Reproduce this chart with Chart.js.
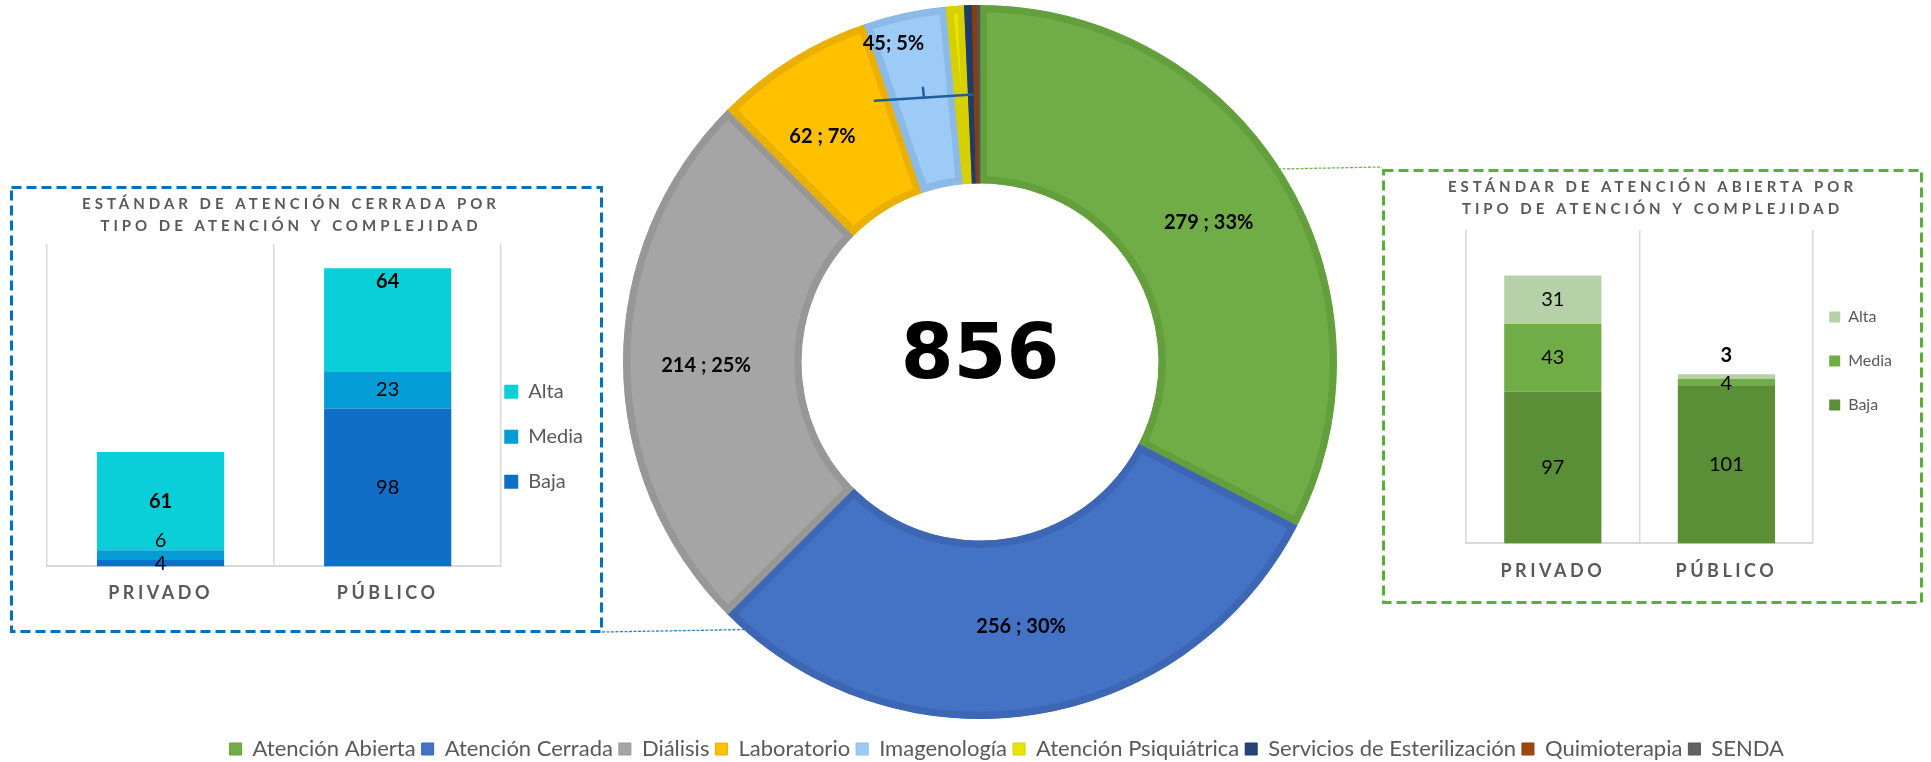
<!DOCTYPE html>
<html lang="es">
<head>
<meta charset="utf-8">
<title>Estándares por sector y tipo de atención</title>
<script src="https://cdn.jsdelivr.net/npm/chart.js@4/dist/chart.umd.min.js"></script>
<style>
  html, body { margin: 0; padding: 0; background: #fff; }
  body { width: 1931px; height: 762px; position: relative; overflow: hidden; }
  canvas, svg { position: absolute; }
</style>
</head>
<body>
<!-- marcos punteados y líneas de conexión -->
<svg width="1931" height="762" style="left:0;top:0">
  <rect x="11.5" y="187.5" width="590" height="444" fill="none" stroke="#0070C0" stroke-width="3" stroke-dasharray="10 5"/>
  <rect x="1383.5" y="170.5" width="538" height="432" fill="none" stroke="#5BAE3A" stroke-width="3" stroke-dasharray="10 5"/>
  <line x1="602" y1="632" x2="747" y2="629.5" stroke="#2F80C9" stroke-width="1.3" stroke-dasharray="3 1.5"/>
  <line x1="1278" y1="169" x2="1382" y2="167" stroke="#6DB552" stroke-width="1.3" stroke-dasharray="3 1.5"/>
</svg>
<canvas id="anillo" width="1620" height="782" style="left:170px;top:-12px"></canvas>
<canvas id="cerrada" width="604" height="440" style="left:-11px;top:190px"></canvas>
<canvas id="abierta" width="499" height="427" style="left:1403px;top:173px"></canvas>
<script>
// datos del anillo
const sectores = ['Atención Abierta', 'Atención Cerrada', 'Diálisis', 'Laboratorio', 'Imagenología',
  'Atención Psiquiátrica', 'Servicios de Esterilización', 'Quimioterapia', 'SENDA'];
const totalesSector = [279, 256, 214, 62, 32, 7, 3, 2, 1];
// sectores que comparten una etiqueta (Imagenología agrupa a los menores)
const gruposEtiqueta = [[0], [1], [2], [3], [4, 5, 6, 7, 8]];

// datos de las barras
const tiposPrestador = ['PRIVADO', 'PÚBLICO'];
const complejidades = ['Baja', 'Media', 'Alta'];
const cerradaBaja = [4, 98];
const cerradaMedia = [6, 23];
const cerradaAlta = [61, 64];
const abiertaBaja = [97, 101];
const abiertaMedia = [43, 4];
const abiertaAlta = [31, 3];

const tituloCerrada = ['ESTÁNDAR DE ATENCIÓN CERRADA POR', 'TIPO DE ATENCIÓN Y COMPLEJIDAD'];
const tituloAbierta = ['ESTÁNDAR DE ATENCIÓN ABIERTA POR', 'TIPO DE ATENCIÓN Y COMPLEJIDAD'];

const coloresSector = ['#70AD47', '#4472C4', '#A5A5A5', '#FFC000', '#9DCBF8', '#EAE400', '#264478', '#9E480E', '#636363'];
const bordesSector = ['#63A03D', '#3D67B5', '#979797', '#EAB000', '#8CBAE6', '#D6D000', '#1F3B6A', '#8A3E0B', '#555555'];

const totalEstandares = totalesSector.reduce((a, b) => a + b, 0);

// espaciado entre letras para títulos y categorías
const espaciado = {
  id: 'espaciado',
  beforeDraw(chart, args, opts) {
    const x = chart.scales.x;
    if (x && !x._espaciado) {
      const dibujar = x.drawLabels;
      x.drawLabels = function (area) {
        this.ctx.save();
        this.ctx.letterSpacing = opts.ticks;
        dibujar.call(this, area);
        this.ctx.restore();
      };
      x._espaciado = true;
    }
    const t = chart.titleBlock;
    if (t && !t._espaciado) {
      const dibujarT = t.draw;
      t.draw = function () {
        this.ctx.save();
        this.ctx.letterSpacing = opts.title;
        dibujarT.apply(this, arguments);
        this.ctx.restore();
      };
      t._espaciado = true;
    }
  }
};

// valores dentro de cada segmento de barra
const etiquetasBarras = {
  id: 'etiquetasBarras',
  afterDatasetsDraw(chart) {
    const ctx = chart.ctx;
    chart.data.datasets.forEach((ds, i) => {
      chart.getDatasetMeta(i).data.forEach((bar, j) => {
        ctx.save();
        ctx.font = (ds.labelBold[j] ? 'bold ' : '') + '20px Lato';
        ctx.fillStyle = '#000';
        ctx.textAlign = 'center';
        ctx.textBaseline = 'middle';
        ctx.fillText(ds.data[j], bar.x, (bar.y + bar.base) / 2 + ds.labelShift[j]);
        ctx.restore();
      });
    });
  }
};

// etiquetas "valor ; %", corchete del grupo menor y total al centro
const etiquetasAnillo = {
  id: 'etiquetasAnillo',
  afterDatasetsDraw(chart, args, opts) {
    const ctx = chart.ctx;
    const meta = chart.getDatasetMeta(0);
    const valores = chart.data.datasets[0].data;
    const props = (i) => meta.data[i].getProps(['x', 'y', 'startAngle', 'endAngle', 'innerRadius', 'outerRadius'], true);
    const punto = (p, a, r) => [p.x + Math.cos(a) * r, p.y + Math.sin(a) * r];

    // corchete sobre Imagenología y los sectores menores
    const grupo = gruposEtiqueta[gruposEtiqueta.length - 1];
    const p0 = props(grupo[0]);
    const p1 = props(grupo[grupo.length - 1]);
    const g = Math.PI / 180;
    const [ax, ay] = punto(p0, p0.startAngle - 3 * g, p0.innerRadius + 103);
    const [bx, by] = punto(p1, p1.endAngle - 1.5 * g, p1.innerRadius + 89);
    ctx.save();
    ctx.strokeStyle = '#1F5E9C';
    ctx.lineWidth = 2.5;
    ctx.lineCap = 'round';
    ctx.beginPath();
    ctx.moveTo(ax, ay);
    ctx.lineTo(bx, by);
    const mx = (ax + bx) / 2, my = (ay + by) / 2;
    ctx.moveTo(mx, my);
    ctx.lineTo(mx - 1, my - 10);
    ctx.stroke();
    ctx.restore();

    ctx.save();
    ctx.fillStyle = '#000';
    ctx.textAlign = 'center';
    ctx.textBaseline = 'middle';
    ctx.font = 'bold 20px Lato';
    gruposEtiqueta.forEach((idx, k) => {
      const p = props(idx[0]);
      const a = (p.startAngle + p.endAngle) / 2;
      const r = p.innerRadius + (p.outerRadius - p.innerRadius) * opts.radial[k];
      const v = idx.reduce((s, i) => s + valores[i], 0);
      const pct = Math.round(v / totalEstandares * 100);
      const [tx, ty] = punto(p, a + opts.giro[k] * g, r);
      ctx.fillText(v + opts.sep[k] + pct + '%', tx, ty);
    });
    const c = meta.data[0];
    ctx.font = 'bold 76px "DejaVu Sans"';
    ctx.fillText(String(totalEstandares), c.x, c.y + opts.centerDy);
    ctx.restore();
  }
};

new Chart(document.getElementById('anillo'), {
  type: 'doughnut',
  data: {
    labels: sectores,
    datasets: [{
      data: totalesSector,
      backgroundColor: coloresSector,
      borderColor: bordesSector,
      borderWidth: 7,
      borderAlign: 'inner',
      radius: 357,
      cutout: '50%'
    }]
  },
  options: {
    responsive: false,
    animation: false,
    layout: { padding: { top: 4, bottom: 0, left: 0, right: 0 } },
    plugins: {
      legend: {
        position: 'bottom',
        align: 'end',
        labels: {
          color: '#595959',
          boxWidth: 12,
          boxHeight: 12,
          padding: 6,
          font: { family: 'Lato', size: 22 },
          generateLabels: (chart) => Chart.overrides.doughnut.plugins.legend.labels.generateLabels(chart)
            .map(l => Object.assign(l, { lineWidth: 1 }))
        }
      },
      tooltip: { enabled: false },
      etiquetasAnillo: {
        radial: [0.5, 0.5, 0.535, 0.54, 0.85],
        giro: [0, 0, -0.8, -3, -3],
        sep: [' ; ', ' ; ', ' ; ', ' ; ', '; '],
        centerDy: -4
      }
    }
  },
  plugins: [etiquetasAnillo]
});

function graficoBarras(id, titulo, baja, media, alta, colores, e) {
  const series = [baja, media, alta];
  return new Chart(document.getElementById(id), {
    type: 'bar',
    data: {
      labels: tiposPrestador,
      datasets: series.map((s, i) => ({
        label: complejidades[i],
        data: s,
        backgroundColor: colores[i],
        labelShift: e.shift[i],
        labelBold: e.bold[i]
      }))
    },
    options: {
      responsive: false,
      animation: false,
      layout: { padding: { top: 0, bottom: e.padBottom, left: 0, right: 0 } },
      datasets: { bar: { categoryPercentage: 1, barPercentage: 0.56, borderWidth: 0 } },
      scales: {
        x: {
          stacked: true,
          grid: { offset: true, color: '#D9D9D9', lineWidth: 1.5, drawTicks: false },
          border: { color: '#D9D9D9', width: 2 },
          ticks: { color: '#595959', padding: e.tickPad, font: { family: 'Lato', size: 18, weight: 'bold' } }
        },
        y: {
          stacked: true,
          min: 0,
          max: 200,
          ticks: { display: false },
          grid: { display: false },
          border: { display: false },
          afterFit: (s) => { s.width = e.ejeY; }
        }
      },
      plugins: {
        title: {
          display: true,
          text: titulo,
          color: '#595959',
          font: { family: 'Lato', size: 15, weight: 'bold', lineHeight: 22 / 15 },
          padding: { top: 3, bottom: e.titlePad }
        },
        legend: {
          position: 'right',
          align: 'start',
          reverse: true,
          title: { display: true, text: '', padding: { top: e.legTop, bottom: 0 }, font: { size: 10, lineHeight: 1 } },
          labels: {
            color: '#595959',
            boxWidth: e.caja,
            boxHeight: e.caja,
            padding: e.legPad,
            font: { family: 'Lato', size: e.legFont, lineHeight: e.legLine },
            generateLabels: (chart) => Chart.defaults.plugins.legend.labels.generateLabels(chart)
              .map(l => Object.assign(l, { text: [l.text] }))
          }
        },
        tooltip: { enabled: false },
        espaciado: { ticks: '3.5px', title: '4px' }
      }
    },
    plugins: [espaciado, etiquetasBarras]
  });
}

graficoBarras('cerrada', tituloCerrada, cerradaBaja, cerradaMedia, cerradaAlta,
  ['#0F6FC6', '#039CD6', '#0BCFD8'], {
    shift: [[0, 0], [-15, 0], [0, -38]],
    bold: [[false, false], [false, false], [true, true]],
    ejeY: 58, titlePad: 7, tickPad: 16, padBottom: 10,
    legPad: 3, caja: 14, legFont: 20, legLine: 2.1, legTop: 178.7
  });

graficoBarras('abierta', tituloAbierta, abiertaBaja, abiertaMedia, abiertaAlta,
  ['#5A8F38', '#70AD47', '#B5D1A7'], {
    shift: [[0, 0], [0, 2], [0, -21]],
    bold: [[false, false], [false, false], [false, true]],
    ejeY: 63, titlePad: 10, tickPad: 17, padBottom: 1,
    legPad: 16, caja: 11, legFont: 16, legLine: 1.75, legTop: 110
  });
</script>
</body>
</html>
